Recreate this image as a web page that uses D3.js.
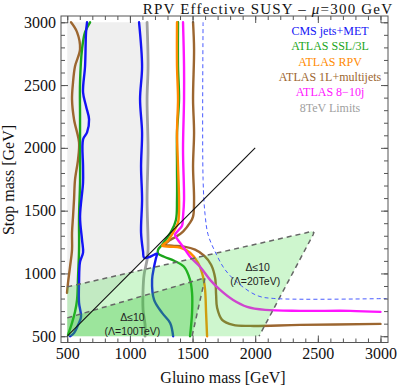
<!DOCTYPE html>
<html><head><meta charset="utf-8">
<script src="https://cdn.jsdelivr.net/npm/d3@7"></script>
<style>body{margin:0;background:#fff}svg{display:block}</style>
</head><body><svg id="c" width="399" height="390"></svg>
<script>
// ---- data: [gluino mass, stop mass] in GeV ----
const cmsA = [[658,3000],[650,2922],[642,2650],[626,2443],[650,2331],[674,2227],[658,2123],[626,2067],[626,1851],[626,1724],[602,1452],[618,1268],[626,1165],[602,1093],[594,925],[594,765],[610,654],[586,590],[554,526],[522,500]];
const cmsB = [[1073,3000],[1097,2650],[1081,2387],[1097,2123],[1089,1851],[1097,1588],[1089,1325],[1105,1173],[1113,1125],[1161,1133],[1217,1157],[1209,1125],[1193,1053],[1177,949],[1193,789],[1257,686],[1321,606],[1345,500]];
const sslA = [[682,3000],[642,2922],[618,2786],[602,2522],[602,2251],[602,1987],[602,1724],[594,1452],[594,1189],[586,973],[578,789],[562,694],[538,606],[506,510]];
const sslB = [[1384,3000],[1384,2650],[1392,2387],[1376,2123],[1376,1851],[1376,1588],[1368,1428],[1329,1333],[1257,1229],[1225,1189],[1225,1157],[1273,1133],[1353,1101],[1432,1053],[1480,949],[1496,845],[1496,686],[1480,500]];
const rpv = [[1376,3000],[1376,2650],[1384,2387],[1376,2123],[1384,1851],[1392,1611],[1392,1484],[1384,1404],[1345,1325],[1297,1253],[1257,1221],[1321,1213],[1400,1205],[1480,1165],[1544,1085],[1584,973],[1600,869],[1608,686],[1616,500]];
const oneLA = [[530,3000],[578,2922],[602,2786],[562,2650],[546,2522],[538,2386],[554,2226],[594,2043],[586,1907],[562,1747],[554,1588],[546,1452],[538,1325],[538,1189],[522,1053],[506,925],[498,845]];
const oneLB = [[1504,3000],[1512,2786],[1504,2387],[1512,2123],[1504,1851],[1512,1588],[1504,1452],[1480,1404],[1424,1333],[1369,1293],[1313,1261],[1281,1229],[1337,1221],[1432,1213],[1520,1189],[1592,1141],[1648,1069],[1680,965],[1688,829],[1696,726],[1736,630],[1824,590],[1960,582],[2359,590],[3000,598]];
const tenJ = [[1424,3000],[1432,2650],[1432,2387],[1424,1987],[1432,1588],[1424,1452],[1416,1380],[1384,1340],[1360,1309],[1376,1277],[1424,1213],[1480,1133],[1560,1053],[1640,949],[1720,869],[1824,789],[1936,734],[2079,710],[2359,702],[2758,702],[3000,694]];
const lim8 = [[1137,3000],[1145,2650],[1137,2387],[1145,1987],[1137,1588],[1145,1189],[1137,1109],[1113,989],[1105,869],[1105,709],[1121,590],[1121,500]];
const lim8Edge = [[1137,3000],[1145,2650],[1137,2387],[1145,1987],[1137,1588],[1145,1189],[1141,1141]];
const blueDash = [[1584,3000],[1584,1748],[1600,1468],[1624,1309],[1680,1173],[1760,1029],[1880,909],[2023,821],[2159,800],[3050,800]];
const diagonal = [[500,500],[2000,2000]];
const tune20 = [[500,500],[500,893],[2400,1322],[2450,1336],[2468,1326],[2463,1310],[2031,500]];
const tune100 = [[500,500],[500,646],[1600,965],[1496,500]];
const legendLabels = ["CMS jets+MET","ATLAS SSL/3L","ATLAS RPV","ATLAS 1L+multijets","ATLAS 8\u221210j","8TeV Limits"];
const majorTicks = [500,1000,1500,2000,2500,3000];

// ---- styles ----
const C = {cms:"#1414f5", ssl:"#1aa51a", rpv:"#ff8a00", oneL:"#9c6630", tenJ:"#ff14ff", lim:"#a0a0a0"};
const legendColors = [C.cms, C.ssl, C.rpv, C.oneL, C.tenJ, C.lim];

const svg = d3.select("#c");
const x = d3.scaleLinear().domain([450,3060]).range([61,388]);
const y = d3.scaleLinear().domain([450,3050]).range([342.5,16]);
const serif = "Liberation Serif, Times New Roman, serif";
const sans = "Liberation Sans, Arial, sans-serif";

const smooth = d3.line().x(d=>x(d[0])).y(d=>y(d[1])).curve(d3.curveCatmullRom.alpha(0.5));
const poly = d3.line().x(d=>x(d[0])).y(d=>y(d[1]));

// gray excluded region (above diagonal, left of 8 TeV limit)
const grayPoly = [[500,3000]].concat(lim8Edge).concat([[500,500]]);
svg.append("path").attr("d", poly(grayPoly)+"Z").attr("fill","#efefef");

// limit curves
function curve(data, color, w){
  svg.append("path").attr("d", smooth(data)).attr("fill","none").attr("stroke",color)
    .attr("stroke-width",w||2.4).attr("stroke-linejoin","round").attr("stroke-linecap","round");
}
curve(lim8, C.lim, 2.8);
curve(oneLA, C.oneL); curve(oneLB, C.oneL);
curve(sslA, C.ssl); curve(sslB, C.ssl);
curve(rpv, C.rpv);
curve(tenJ, C.tenJ);
curve(cmsA, C.cms); curve(cmsB, C.cms);

// fine-tuning regions
svg.append("path").attr("d", poly(tune20)+"Z").attr("fill","rgb(60,220,60)").attr("fill-opacity",0.25);
svg.append("path").attr("d", poly(tune100)+"Z").attr("fill","rgb(40,190,40)").attr("fill-opacity",0.3);
svg.append("path").attr("d", poly(tune20.slice(1))).attr("fill","none").attr("stroke","#666").attr("stroke-width",1.5).attr("stroke-dasharray","5,4");
svg.append("path").attr("d", poly(tune100.slice(1))).attr("fill","none").attr("stroke","#666").attr("stroke-width",1.5).attr("stroke-dasharray","5,4");

// blue dashed
svg.append("path").attr("d", smooth(blueDash)).attr("fill","none").attr("stroke","#4a5cff").attr("stroke-width",1).attr("stroke-dasharray","4,3");
// diagonal
svg.append("path").attr("d", poly(diagonal)).attr("stroke","#111").attr("stroke-width",1.1);

// region labels
function lab(t, gx, gy){ svg.append("text").attr("x",x(gx)).attr("y",y(gy)).attr("text-anchor","middle")
  .attr("font-family",sans).attr("font-size",10.5).attr("fill","#222").text(t); }
lab("\u0394\u226410", 1020, 620); lab("(\u039B=100TeV)", 1020, 510);
lab("\u0394\u226410", 2020, 1020); lab("(\u039B=20TeV)", 2000, 910);

// frame and ticks
const minorTicks = d3.range(500,3001,100);
function ax(gen, tr, vals, size, labels){
  const g = svg.append("g").attr("transform",tr)
    .call(gen.tickValues(vals).tickSizeInner(-size).tickSizeOuter(0).tickPadding(5).tickFormat(labels? d3.format("d"):""));
  g.select(".domain").remove();
  g.selectAll(".tick line").attr("stroke","#555");
  g.selectAll("text").attr("font-family",serif).attr("font-size",16).attr("fill","#111");
  return g;
}
const L = x.range()[0], R = x.range()[1], B = y.range()[0], T = y.range()[1];
ax(d3.axisBottom(x), `translate(0,${B})`, minorTicks, 4, false);
ax(d3.axisBottom(x), `translate(0,${B})`, majorTicks, 7, true);
ax(d3.axisTop(x), `translate(0,${T})`, minorTicks, 4, false);
ax(d3.axisTop(x), `translate(0,${T})`, majorTicks, 7, false);
ax(d3.axisLeft(y), `translate(${L},0)`, minorTicks, 4, false);
ax(d3.axisLeft(y), `translate(${L},0)`, majorTicks, 7, true);
ax(d3.axisRight(y), `translate(${R},0)`, minorTicks, 4, false);
ax(d3.axisRight(y), `translate(${R},0)`, majorTicks, 7, false);
svg.append("rect").attr("x",L).attr("y",T).attr("width",R-L).attr("height",B-T).attr("fill","none").attr("stroke","#555").attr("stroke-width",1);

// title
const tt = svg.append("text").attr("x",268).attr("y",13.5).attr("text-anchor","middle").attr("font-family",serif)
  .attr("font-size",15).attr("letter-spacing",1.2).attr("fill","#111");
tt.append("tspan").text("RPV Effective SUSY \u2013 ");
tt.append("tspan").attr("font-style","italic").text("\u03BC");
tt.append("tspan").text("=300 GeV");

// axis labels
svg.append("text").attr("x",223).attr("y",383).attr("text-anchor","middle").attr("font-family",serif).attr("font-size",16).attr("fill","#111").text("Gluino mass [GeV]");
svg.append("text").attr("transform","translate(14,180) rotate(-90)").attr("text-anchor","middle").attr("font-family",serif).attr("font-size",16).attr("fill","#111").text("Stop mass [GeV]");

// legend
legendLabels.forEach((t,i)=>{
  svg.append("text").attr("x",330).attr("y",35+i*15.3).attr("text-anchor","middle").attr("font-family",serif)
    .attr("font-size",12).attr("fill",legendColors[i]).text(t);
});
</script></body></html>
